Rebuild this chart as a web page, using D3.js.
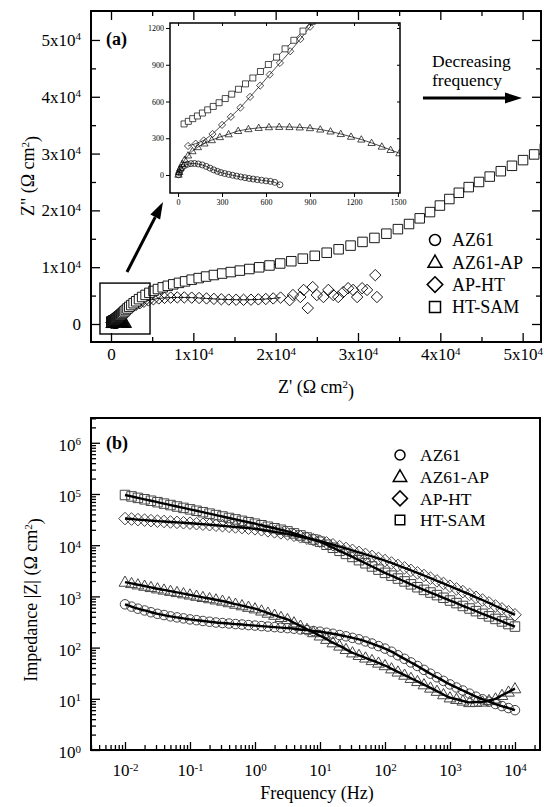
<!DOCTYPE html>
<html><head><meta charset="utf-8">
<script src="https://cdn.jsdelivr.net/npm/d3@7"></script>
<style>
body{margin:0;background:#fff}
svg{display:block}
text{font-family:"Liberation Serif","Times New Roman",serif;fill:#000}
</style></head><body>
<svg id="chart" width="544" height="807"></svg>
<script>
// ---------------- DATA ----------------
const seriesNames = ['AZ61', 'AZ61-AP', 'AP-HT', 'HT-SAM'];
const seriesShapes = ['circle', 'triangle', 'diamond', 'square'];

// Nyquist (panel a): Z' and Z'' in ohm cm^2
const az61Re = [3,8,16,28,45,65,88,112,138,165,192,218,243,268,292,318,345,372,400,428,456,484,512,540,570,600,630,660,695];
const az61Im = [2,20,42,62,78,88,93,94,90,82,70,56,42,30,20,12,5,-2,-9,-16,-22,-28,-33,-38,-43,-48,-52,-60,-80];

const az61apRe = [3,8,16,28,45,68,98,135,180,230,285,345,410,480,550,620,690,760,830,900,970,1040,1110,1180,1250,1320,1390,1450,1510,1570,1640,1720,1800,1880];
const az61apIm = [3,25,55,90,125,160,195,228,258,285,310,333,360,375,385,391,393,392,389,383,372,356,335,313,290,262,232,205,178,145,110,72,38,12];

const apHtRe = [68,120,175,235,300,360,425,491,560,625,695,765,835,900,980,1080,1200,1350,1530,1750,2000,2300,2650,3050,3500,4000,4550,5150,5800,6500,7250,8050,8900,9800,10700,11600,12500,13400,14300,15200,16100,17000,17900,18800,19700,20600,21700,22100,23000,23400,23900,24500,25000,25800,26400,27000,27600,28200,28800,29400,29900,30500,31100,32100,32300];
const apHtIm = [237,256,282,335,409,475,550,638,730,820,915,1010,1110,1210,1320,1450,1600,1780,1990,2230,2490,2780,3080,3380,3660,3920,4150,4350,4500,4600,4650,4680,4680,4640,4580,4500,4420,4350,4300,4270,4260,4280,4330,4400,4500,4650,4200,5100,4750,6000,2800,6500,5100,4750,6000,5100,4750,5600,6300,6000,4750,6300,6000,8600,4750];

const htSamRe = [41,70,100,132,166,202,240,280,322,366,412,460,510,562,616,672,730,790,852,916,985,1060,1145,1240,1350,1480,1630,1800,2000,2220,2470,2750,3060,3400,3780,4200,4660,5160,5700,6280,6900,7560,8260,9000,9800,10650,11550,12500,13500,14550,15650,16800,18000,19250,20550,21900,23300,24750,26200,27650,29100,30550,32000,33450,34850,36200,37500,38750,39950,41100,42250,43450,44700,46000,47350,48700,50050,51400,52700];
const htSamIm = [417,438,460,482,506,532,560,590,624,660,700,744,792,845,902,962,1030,1100,1175,1255,1345,1440,1550,1670,1830,2010,2220,2460,2730,3020,3330,3660,4000,4370,4750,5120,5480,5830,6150,6450,6720,6980,7240,7500,7800,8080,8350,8620,8880,9140,9400,9680,9980,10300,10650,11050,11500,12000,12550,13150,13800,14450,15150,15900,16700,17600,18600,19700,20850,22000,23100,24100,25000,25950,26900,27850,28850,29850,30900];

// Bode (panel b): frequency (Hz) and |Z| (ohm cm^2)
const freq = [0.01,0.0126,0.0158,0.02,0.0251,0.0316,0.0398,0.0501,0.0631,0.0794,
  0.1,0.126,0.158,0.2,0.251,0.316,0.398,0.501,0.631,0.794,
  1,1.26,1.58,2,2.51,3.16,3.98,5.01,6.31,7.94,
  10,12.6,15.8,20,25.1,31.6,39.8,50.1,63.1,79.4,
  100,126,158,200,251,316,398,501,631,794,
  1000,1260,1580,2000,2510,3160,3980,5010,6310,7940,10000];
const az61Z = [700,631,575,531,490,457,432,407,389,372,
  355,343,331,320,309,302,295,288,282,275,
  269,263,257,251,245,240,234,226,219,211,
  204,195,186,176,166,155,145,132,120,107,
  95.5,83.2,70.8,60.3,51.3,43.7,36.7,30.9,26.3,22.4,
  19.1,16.6,14.5,12.6,11.0,9.8,8.8,7.9,7.2,6.6,6.0];
const az61apZ = [1905,1795,1690,1592,1500,1413,1337,1265,1197,1132,
  1072,1014,959,908,859,813,759,708,661,617,
  575,522,474,431,391,355,306,264,228,197,
  170,146,125,108,92.5,79.4,70.8,63.1,56.2,50.1,
  44.7,38.7,33.6,29.1,25.2,21.9,18.9,16.3,14.1,12.1,
  10.5,9.8,9.1,8.5,8.6,8.7,9.3,10.0,11.7,13.6,15.8];
const apHtZ = [33100,32400,31600,30900,30200,29500,29000,28400,27900,27400,
  26900,26300,25700,25100,24500,24000,23300,22700,22100,21500,
  20900,20000,19100,18200,17400,16600,15600,14600,13700,12800,
  12000,11100,10200,9380,8630,7940,7240,6610,6030,5500,
  5010,4490,4020,3600,3220,2880,2560,2270,2010,1790,
  1580,1400,1240,1090,960,850,745,650,570,500,437];
const htSamZ = [95500,89500,83900,78700,73800,69200,64900,60800,57000,53500,
  50100,47000,44100,41300,38700,36300,34000,31900,29900,28100,
  26300,24500,22900,21400,20000,18600,17000,15500,14100,12900,
  11700,10200,8900,7760,6760,5890,5100,4430,3840,3330,
  2880,2540,2230,1960,1720,1510,1340,1190,1060,940,
  830,740,650,580,515,457,407,363,324,288,257];

// tick values
const nyqMajor = [0, 10000, 20000, 30000, 40000, 50000];
const nyqMinor = [5000, 15000, 25000, 35000, 45000];
const insetXTicks = [0, 300, 600, 900, 1200, 1500];
const insetYTicks = [0, 300, 600, 900, 1200];
const freqMajor = [0.01, 0.1, 1, 10, 100, 1000, 10000];
const impMajor = [1, 10, 100, 1000, 10000, 100000, 1000000];

// ---------------- LAYOUT ----------------
const A = {l: 91, r: 541, t: 11, b: 342};
const I = {l: 170, r: 400, t: 23, b: 193};
const B = {l: 91, r: 540, t: 418, b: 750};

const xA = d3.scaleLinear().domain([-2430, 52230]).range([A.l, A.r]);
const yA = d3.scaleLinear().domain([-3170, 55100]).range([A.b, A.t]);
const xI = d3.scaleLinear().domain([-55, 1514]).range([I.l, I.r]);
const yI = d3.scaleLinear().domain([-147, 1241]).range([I.b, I.t]);
const xB = d3.scaleLog().domain([Math.pow(10, -2.523), Math.pow(10, 4.385)]).range([B.l, B.r]);
const yB = d3.scaleLog().domain([1, Math.pow(10, 6.484)]).range([B.b, B.t]);

const svg = d3.select('#chart');
const defs = svg.append('defs');
defs.append('clipPath').attr('id', 'clipA').append('rect')
  .attr('x', A.l).attr('y', A.t).attr('width', A.r - A.l).attr('height', A.b - A.t);
defs.append('clipPath').attr('id', 'clipI').append('rect')
  .attr('x', I.l).attr('y', I.t).attr('width', I.r - I.l).attr('height', I.b - I.t);
defs.append('clipPath').attr('id', 'clipB').append('rect')
  .attr('x', B.l).attr('y', B.t).attr('width', B.r - B.l).attr('height', B.b - B.t);

function shape(type, s) {
  const h = s / 2;
  switch (type) {
    case 'circle': return `M${h},0A${h},${h} 0 1,1 ${-h},0A${h},${h} 0 1,1 ${h},0Z`;
    case 'square': return `M${-h},${-h}H${h}V${h}H${-h}Z`;
    case 'triangle': return `M0,${-h * 1.15}L${h * 1.12},${h * 0.8}L${-h * 1.12},${h * 0.8}Z`;
    case 'diamond': return `M0,${-h * 1.2}L${h * 1.2},0L0,${h * 1.2}L${-h * 1.2},0Z`;
  }
}

function styleAxis(g, fs) {
  g.select('.domain').remove();
  g.attr('font-family', '"Liberation Serif","Times New Roman",serif').attr('font-size', fs);
  g.selectAll('.tick line').attr('stroke', '#000').attr('stroke-width', 1.3);
  g.selectAll('.tick text').attr('fill', '#000');
}
function sup(sel, base, s, fs) {
  sel.text(null);
  sel.append('tspan').text(base);
  if (s !== null) sel.append('tspan').attr('dy', '-0.5em').attr('font-size', fs).text(s);
}

function arrow(g, x1, y1, x2, y2, hl, hw, sw) {
  const a = Math.atan2(y2 - y1, x2 - x1);
  const bx = x2 - hl * Math.cos(a), by = y2 - hl * Math.sin(a);
  g.append('line').attr('x1', x1).attr('y1', y1).attr('x2', bx).attr('y2', by)
    .attr('stroke', '#000').attr('stroke-width', sw);
  const px = Math.sin(a) * hw / 2, py = -Math.cos(a) * hw / 2;
  g.append('path').attr('d', `M${x2},${y2}L${bx + px},${by + py}L${bx - px},${by - py}Z`).attr('fill', '#000');
}

// ---------------- PANEL A ----------------
const nyq = [
  {re: az61Re, im: az61Im},
  {re: az61apRe, im: az61apIm},
  {re: apHtRe, im: apHtIm},
  {re: htSamRe, im: htSamIm}
].map((s, k) => ({name: seriesNames[k], shape: seriesShapes[k],
  pts: s.re.map((v, i) => ({re: v, im: s.im[i]}))}));

const gA = svg.append('g');
const fmtNyq = function (sel) {
  sel.selectAll('.tick text').each(function (d) {
    const t = d3.select(this);
    if (d === 0) sup(t, '0', null); else sup(t, (d / 1e4) + 'x10', '4', '11px');
  });
};
gA.append('g').attr('transform', `translate(0,${A.b})`)
  .call(d3.axisBottom(xA).tickValues(nyqMajor).tickSize(-9).tickPadding(6))
  .call(g => styleAxis(g, '17px')).call(fmtNyq);
gA.append('g').attr('transform', `translate(0,${A.b})`)
  .call(d3.axisBottom(xA).tickValues(nyqMinor).tickSize(-5).tickFormat(''))
  .call(g => styleAxis(g, '17px'));
gA.append('g').attr('transform', `translate(0,${A.t})`)
  .call(d3.axisTop(xA).tickValues(nyqMajor).tickSize(-9).tickFormat('')).call(g => styleAxis(g, '17px'));
gA.append('g').attr('transform', `translate(0,${A.t})`)
  .call(d3.axisTop(xA).tickValues(nyqMinor).tickSize(-5).tickFormat('')).call(g => styleAxis(g, '17px'));
gA.append('g').attr('transform', `translate(${A.l},0)`)
  .call(d3.axisLeft(yA).tickValues(nyqMajor).tickSize(-9).tickPadding(10))
  .call(g => styleAxis(g, '17px')).call(fmtNyq);
gA.append('g').attr('transform', `translate(${A.l},0)`)
  .call(d3.axisLeft(yA).tickValues(nyqMinor).tickSize(-5).tickFormat('')).call(g => styleAxis(g, '17px'));
gA.append('g').attr('transform', `translate(${A.r},0)`)
  .call(d3.axisRight(yA).tickValues(nyqMajor).tickSize(-9).tickFormat('')).call(g => styleAxis(g, '17px'));
gA.append('g').attr('transform', `translate(${A.r},0)`)
  .call(d3.axisRight(yA).tickValues(nyqMinor).tickSize(-5).tickFormat('')).call(g => styleAxis(g, '17px'));

const mainSize = {circle: 8, triangle: 9, diamond: 9.5, square: 9.5};
const dA = gA.append('g').attr('clip-path', 'url(#clipA)');
const lineA = d3.line().defined(d => d.re < 21000).x(d => xA(d.re)).y(d => yA(d.im));
nyq.forEach(s => {
  dA.append('path').attr('d', lineA(s.pts)).attr('fill', 'none').attr('stroke', '#000').attr('stroke-width', 0.9);
  dA.append('g').selectAll('path').data(s.pts).join('path')
    .attr('transform', d => `translate(${xA(d.re)},${yA(d.im)})`)
    .attr('d', shape(s.shape, mainSize[s.shape]))
    .attr('fill', s.shape === 'square' ? '#fff' : 'none')
    .attr('stroke', '#000').attr('stroke-width', 0.9);
});

gA.append('rect').attr('x', xA(-1340)).attr('y', yA(7200))
  .attr('width', xA(4740) - xA(-1340)).attr('height', yA(-1760) - yA(7200))
  .attr('fill', 'none').attr('stroke', '#000').attr('stroke-width', 1.4);
arrow(gA, xA(1943), yA(9155), xA(6315), yA(21480), 17, 11, 3);

// inset
const gI = svg.append('g');
gI.append('rect').attr('x', I.l).attr('y', I.t).attr('width', I.r - I.l).attr('height', I.b - I.t)
  .attr('fill', '#fff');
gI.append('g').attr('transform', `translate(0,${I.b})`)
  .call(d3.axisBottom(xI).tickValues(insetXTicks).tickSize(4).tickPadding(2).tickFormat(d3.format('d')))
  .call(g => styleAxis(g, '8px')).call(g => g.selectAll('.tick line').attr('stroke-width', 1));
gI.append('g').attr('transform', `translate(${I.l},0)`)
  .call(d3.axisLeft(yI).tickValues(insetYTicks).tickSize(4).tickPadding(2).tickFormat(d3.format('d')))
  .call(g => styleAxis(g, '8px')).call(g => g.selectAll('.tick line').attr('stroke-width', 1));
gI.append('g').attr('transform', `translate(0,${I.t})`)
  .call(d3.axisTop(xI).tickValues(insetXTicks).tickSize(-3).tickFormat(''))
  .call(g => styleAxis(g, '8px')).call(g => g.selectAll('.tick line').attr('stroke-width', 1));
gI.append('g').attr('transform', `translate(${I.r},0)`)
  .call(d3.axisRight(yI).tickValues(insetYTicks).tickSize(-3).tickFormat(''))
  .call(g => styleAxis(g, '8px')).call(g => g.selectAll('.tick line').attr('stroke-width', 1));
const insetSize = {circle: 6, triangle: 6.5, diamond: 6, square: 6};
const dI = gI.append('g').attr('clip-path', 'url(#clipI)');
const lineI = d3.line().x(d => xI(d.re)).y(d => yI(d.im));
nyq.forEach(s => {
  dI.append('path').attr('d', lineI(s.pts)).attr('fill', 'none').attr('stroke', '#000').attr('stroke-width', 0.7);
  dI.append('g').selectAll('path').data(s.pts).join('path')
    .attr('transform', d => `translate(${xI(d.re)},${yI(d.im)})`)
    .attr('d', shape(s.shape, insetSize[s.shape]))
    .attr('fill', s.shape === 'square' ? '#fff' : 'none')
    .attr('stroke', '#000').attr('stroke-width', 0.7);
});
gI.append('rect').attr('x', I.l).attr('y', I.t).attr('width', I.r - I.l).attr('height', I.b - I.t)
  .attr('fill', 'none').attr('stroke', '#000').attr('stroke-width', 1.5);

gA.append('rect').attr('x', A.l).attr('y', A.t).attr('width', A.r - A.l).attr('height', A.b - A.t)
  .attr('fill', 'none').attr('stroke', '#000').attr('stroke-width', 2);

svg.append('text').attr('x', 106).attr('y', 45).attr('font-size', '18px').attr('font-weight', 'bold').text('(a)');
svg.append('text').attr('x', 432).attr('y', 67).attr('font-size', '17.5px').text('Decreasing');
svg.append('text').attr('x', 432).attr('y', 86).attr('font-size', '17.5px').text('frequency');
arrow(svg, xA(37890), yA(39790), xA(49920), yA(39790), 17, 11, 3);

const legA = svg.append('g');
const legSize = {circle: 11, triangle: 12.5, diamond: 13, square: 11};
seriesNames.forEach((n, k) => {
  const y = 240 + k * 22.3;
  legA.append('path').attr('transform', `translate(435,${y})`).attr('d', shape(seriesShapes[k], legSize[seriesShapes[k]]))
    .attr('fill', 'none').attr('stroke', '#000').attr('stroke-width', 1.5);
  legA.append('text').attr('x', 452).attr('y', y).attr('dy', '0.35em').attr('font-size', '18px').text(n);
});

svg.append('text').attr('transform', `translate(34,176) rotate(-90)`).attr('text-anchor', 'middle')
  .attr('font-size', '18px')
  .call(t => { t.append('tspan').text('Z" (\u03A9 cm'); t.append('tspan').attr('dy', '-0.5em').attr('font-size', '11px').text('2'); t.append('tspan').attr('dy', '0.5em').text(')'); });
svg.append('text').attr('x', 316).attr('y', 393).attr('text-anchor', 'middle').attr('font-size', '18px')
  .call(t => { t.append('tspan').text("Z' (\u03A9 cm"); t.append('tspan').attr('dy', '-0.5em').attr('font-size', '11px').text('2'); t.append('tspan').attr('dy', '0.5em').text(')'); });

// ---------------- PANEL B ----------------
const bode = [az61Z, az61apZ, apHtZ, htSamZ].map((arr, k) => ({
  name: seriesNames[k], shape: seriesShapes[k], pts: arr.map((v, i) => ({f: freq[i], z: v}))}));

const gB = svg.append('g');
const expOf = d => String(Math.round(Math.log10(d)));
const fmtLog = sel => sel.selectAll('.tick text').each(function (d) { sup(d3.select(this), '10', expOf(d), '11px'); });
const isMajor = v => Math.abs(Math.log10(v) - Math.round(Math.log10(v))) < 1e-6;
const xMinorB = xB.ticks(60).filter(v => !isMajor(v));
const yMinorB = yB.ticks(60).filter(v => !isMajor(v));

gB.append('g').attr('transform', `translate(0,${B.b})`)
  .call(d3.axisBottom(xB).tickValues(freqMajor).tickSize(-8).tickPadding(14))
  .call(g => styleAxis(g, '17px')).call(fmtLog);
gB.append('g').attr('transform', `translate(0,${B.b})`)
  .call(d3.axisBottom(xB).tickValues(xMinorB).tickSize(-5).tickFormat('')).call(g => styleAxis(g, '17px'));
gB.append('g').attr('transform', `translate(${B.l},0)`)
  .call(d3.axisLeft(yB).tickValues(impMajor).tickSize(-9).tickPadding(10))
  .call(g => styleAxis(g, '17px')).call(fmtLog)
  .call(g => g.selectAll('.tick text').attr('dy', '0.45em'));
gB.append('g').attr('transform', `translate(${B.l},0)`)
  .call(d3.axisLeft(yB).tickValues(yMinorB).tickSize(-5).tickFormat('')).call(g => styleAxis(g, '17px'));

const dB = gB.append('g').attr('clip-path', 'url(#clipB)');
const bodeSize = {circle: 9.5, triangle: 10.5, diamond: 10.5, square: 9.5};
const lineB = d3.line().curve(d3.curveMonotoneX).x(d => xB(d.f)).y(d => yB(d.z));
bode.forEach(s => {
  dB.append('g').selectAll('path').data(s.pts).join('path')
    .attr('transform', d => `translate(${xB(d.f)},${yB(d.z)})`)
    .attr('d', shape(s.shape, bodeSize[s.shape]))
    .attr('fill', 'none').attr('stroke', '#444').attr('stroke-width', 1);
});
bode.forEach(s => {
  dB.append('path').attr('d', lineB(s.pts)).attr('fill', 'none').attr('stroke', '#000').attr('stroke-width', 2.4);
});

gB.append('rect').attr('x', B.l).attr('y', B.t).attr('width', B.r - B.l).attr('height', B.b - B.t)
  .attr('fill', 'none').attr('stroke', '#000').attr('stroke-width', 2);

svg.append('text').attr('x', 106).attr('y', 449).attr('font-size', '18px').attr('font-weight', 'bold').text('(b)');

const legB = svg.append('g');
const legSizeB = {circle: 10, triangle: 12, diamond: 12.5, square: 9.5};
seriesNames.forEach((n, k) => {
  const y = 455 + k * 21.7;
  legB.append('path').attr('transform', `translate(400,${y})`).attr('d', shape(seriesShapes[k], legSizeB[seriesShapes[k]]))
    .attr('fill', 'none').attr('stroke', '#000').attr('stroke-width', 1.5);
  legB.append('text').attr('x', 420).attr('y', y).attr('dy', '0.35em').attr('font-size', '17.5px').text(n);
});

svg.append('text').attr('transform', `translate(37,600) rotate(-90)`).attr('text-anchor', 'middle')
  .attr('font-size', '18px')
  .call(t => { t.append('tspan').text('Impedance |Z| (\u03A9 cm'); t.append('tspan').attr('dy', '-0.5em').attr('font-size', '11px').text('2'); t.append('tspan').attr('dy', '0.5em').text(')'); });
svg.append('text').attr('x', 317).attr('y', 799).attr('text-anchor', 'middle').attr('font-size', '18px').text('Frequency (Hz)');
</script>
</body></html>
